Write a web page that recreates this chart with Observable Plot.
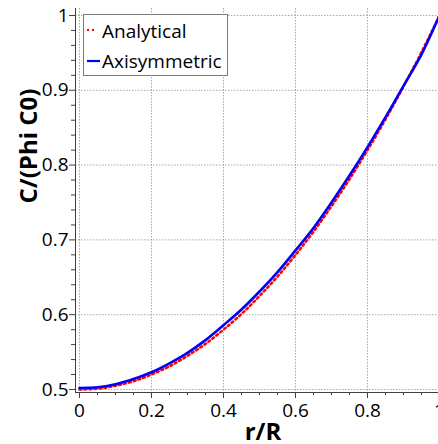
<!DOCTYPE html>
<html><head><meta charset="utf-8">
<script src="https://cdn.jsdelivr.net/npm/d3@7"></script>
<script src="https://cdn.jsdelivr.net/npm/@observablehq/plot@0.6"></script>
<style>
html,body{margin:0;padding:0;background:#fff;overflow:hidden;}
#wrap{position:relative;width:438px;height:444px;overflow:hidden;}
#legend{position:absolute;left:0;top:0;}
</style></head><body><div id="wrap"></div>
<script>
const rValues      = [0, 0.05, 0.1, 0.15, 0.2, 0.25, 0.3, 0.35, 0.4, 0.45, 0.5, 0.55, 0.6, 0.65, 0.7, 0.75, 0.8, 0.85, 0.9, 0.95, 1.0];
const analytical   = [0.500, 0.501, 0.505, 0.511, 0.520, 0.531, 0.545, 0.561, 0.580, 0.601, 0.625, 0.651, 0.680, 0.711, 0.745, 0.781, 0.820, 0.861, 0.905, 0.951, 1.000];
const axisymmetric = [0.502, 0.503, 0.507, 0.514, 0.523, 0.535, 0.549, 0.566, 0.586, 0.607, 0.631, 0.657, 0.686, 0.716, 0.750, 0.786, 0.824, 0.864, 0.906, 0.948, 1.000];
const seriesNames  = ["Analytical", "Axisymmetric"];
const seriesColors = ["#ff0000", "#0000ff"];
const xTicks = [0, 0.2, 0.4, 0.6, 0.8, 1];
const xTickLabels = ["0", "0.2", "0.4", "0.6", "0.8", "1"];
const yTicks = [0.5, 0.6, 0.7, 0.8, 0.9, 1];
const yTickLabels = ["0.5", "0.6", "0.7", "0.8", "0.9", "1"];
const xMinor = [0.05, 0.1, 0.15, 0.25, 0.3, 0.35, 0.45, 0.5, 0.55, 0.65, 0.7, 0.75, 0.85, 0.9, 0.95];
const yMinor = [0.52, 0.54, 0.56, 0.58, 0.62, 0.64, 0.66, 0.68, 0.72, 0.74, 0.76, 0.78, 0.82, 0.84, 0.86, 0.88, 0.92, 0.94, 0.96, 0.98];
const xLabel = "r/R";
const yLabel = "C/(Phi C0)";

const xDomain = [-0.0111, 0.9972];
const yDomain = [0.496, 1.0093];
const axisColor = "#404040";
const gridColor = "#a8a8a8";

const dataA = rValues.map((r, i) => ({r, c: analytical[i]}));
const dataB = rValues.map((r, i) => ({r, c: axisymmetric[i]}));

const chart = Plot.plot({
  width: 438, height: 444,
  marginLeft: 75, marginRight: 0, marginTop: 8, marginBottom: 52,
  style: {fontFamily: "'Open Sans', sans-serif", fontSize: "19px", background: "#fff", color: "#000"},
  x: {domain: xDomain, label: null},
  y: {domain: yDomain, label: null},
  marks: [
    Plot.gridX({ticks: xTicks, stroke: gridColor, strokeOpacity: 1, strokeDasharray: "1.5,1.5"}),
    Plot.gridY({ticks: yTicks, stroke: gridColor, strokeOpacity: 1, strokeDasharray: "1.5,1.5"}),
    Plot.ruleX([xDomain[0]], {stroke: axisColor, strokeWidth: 1}),
    Plot.ruleY([yDomain[0]], {stroke: axisColor, strokeWidth: 1}),
    Plot.axisX({ticks: xMinor, tickSize: 3, tickFormat: () => "", stroke: axisColor, label: null}),
    Plot.axisY({ticks: yMinor, tickSize: 4, tickFormat: () => "", stroke: axisColor, label: null}),
    Plot.axisX({ticks: xTicks, tickSize: 6, tickPadding: 5, stroke: axisColor, fill: "#000", fontSize: 19,
      tickFormat: d => xTickLabels[xTicks.indexOf(d)], label: null}),
    Plot.axisY({ticks: yTicks, tickSize: 6, tickPadding: 1, stroke: axisColor, fill: "#000", fontSize: 19,
      tickFormat: d => yTickLabels[yTicks.indexOf(d)], label: null}),
    Plot.line(dataA, {x: "r", y: "c", stroke: seriesColors[0], strokeWidth: 2.5, strokeDasharray: "2,3", curve: "monotone-x", clip: true}),
    Plot.line(dataB, {x: "r", y: "c", stroke: seriesColors[1], strokeWidth: 2.6, curve: "monotone-x", clip: true}),
    Plot.text([xLabel], {frameAnchor: "bottom", dx: 6, dy: 47, lineAnchor: "bottom", fontSize: 24, fontWeight: "bold", fill: "#000"}),
    Plot.text([yLabel], {frameAnchor: "left", rotate: -90, dx: -39, dy: 3, lineAnchor: "bottom", fontSize: 24, fontWeight: "bold", fill: "#000"})
  ]
});
const wrap = document.getElementById("wrap");
wrap.appendChild(chart);

// legend overlay
const ns = "http://www.w3.org/2000/svg";
const lg = document.createElementNS(ns, "svg");
lg.setAttribute("id", "legend");
lg.setAttribute("width", 438); lg.setAttribute("height", 444);
const rect = document.createElementNS(ns, "rect");
rect.setAttribute("x", 83.5); rect.setAttribute("y", 14.5);
rect.setAttribute("width", 144); rect.setAttribute("height", 61);
rect.setAttribute("fill", "#fff"); rect.setAttribute("stroke", "#7a7a7a");
lg.appendChild(rect);
const rowsY = [30, 61];
const baseY = [38, 68];
seriesNames.forEach((name, i) => {
  const l = document.createElementNS(ns, "line");
  l.setAttribute("x1", 87); l.setAttribute("x2", i === 0 ? 96 : 100);
  l.setAttribute("y1", rowsY[i]); l.setAttribute("y2", rowsY[i]);
  l.setAttribute("stroke", seriesColors[i]); l.setAttribute("stroke-width", i === 0 ? 2 : 2.2);
  if (i === 0) l.setAttribute("stroke-dasharray", "2,3");
  lg.appendChild(l);
  const t = document.createElementNS(ns, "text");
  t.setAttribute("x", 102); t.setAttribute("y", baseY[i]);
  t.setAttribute("font-family", "'Open Sans', sans-serif"); t.setAttribute("font-size", 19);
  t.setAttribute("fill", "#000");
  t.textContent = name;
  lg.appendChild(t);
});
wrap.appendChild(lg);
</script></body></html>
